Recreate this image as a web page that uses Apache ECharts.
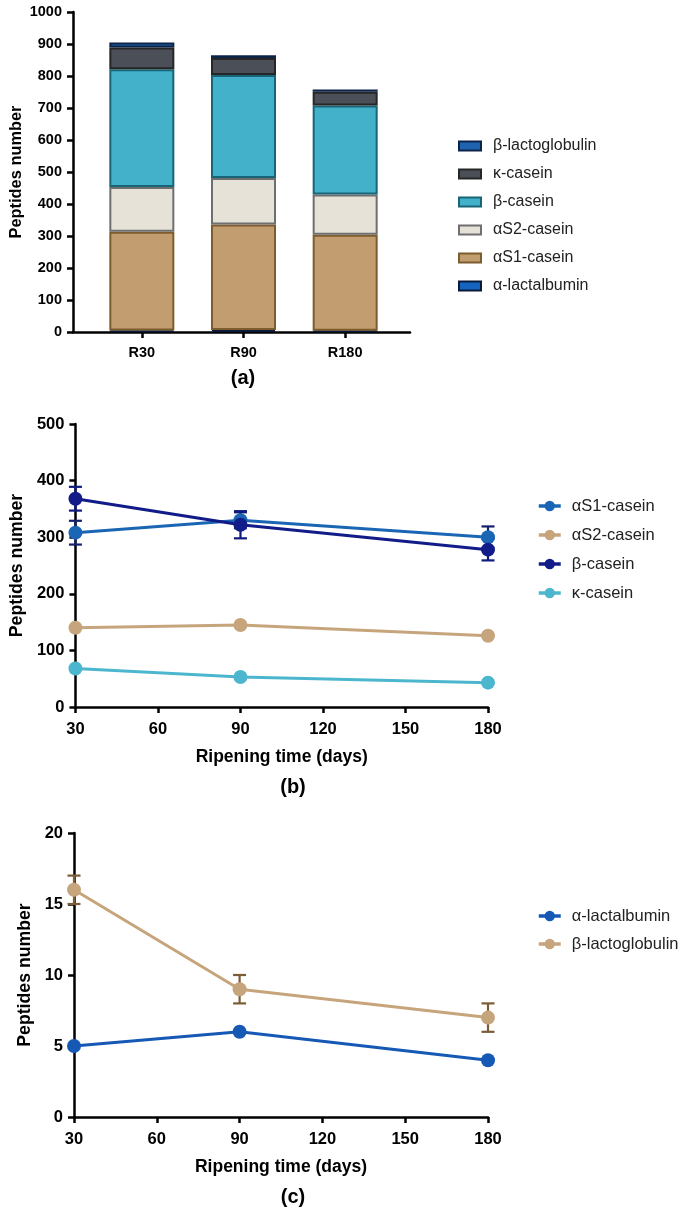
<!DOCTYPE html>
<html>
<head>
<meta charset="utf-8">
<script src="https://cdn.jsdelivr.net/npm/echarts@6/dist/echarts.min.js"></script>
<style>
html,body{margin:0;padding:0;background:#fff;}
#chart{width:688px;height:1211px;}
</style>
</head>
<body>
<div id="chart"></div>
<script>
// ---- data ----
const categories = ['R30', 'R90', 'R180'];
const days = [30, 90, 180];
const xTicks = [30, 60, 90, 120, 150, 180];

const aLactalbumin = [5, 6, 4];
const aS1Casein = [308, 330, 300];
const aS2Casein = [140, 145, 126];
const bCasein = [368, 322, 278];
const kCasein = [68, 53, 43];
const bLactoglobulin = [16, 9, 7];

const aS1Err = [21, 14, 19];
const bCaseinErr = [21, 24, 19];
const bLactoglobulinErr = [1, 1, 1];

// ---- styles ----
const FONT = '"Liberation Sans", Arial, sans-serif';
const AX = { color: '#000', width: 2.5 };
const chart = echarts.init(document.getElementById('chart'));

function pts(vals) { return days.map((d, i) => [d, vals[i]]); }
function errData(vals, errs) { return days.map((d, i) => [d, vals[i], errs[i]]); }

function errSeries(name, vals, errs, color, xi, yi) {
  return {
    type: 'custom', name: name, xAxisIndex: xi, yAxisIndex: yi, z: 1,
    data: errData(vals, errs),
    renderItem: function (params, api) {
      const x = api.value(0), y = api.value(1), e = api.value(2);
      const t = api.coord([x, y + e]), b = api.coord([x, y - e]);
      const w = 6.5;
      const st = { stroke: color, lineWidth: 2.2 };
      return {
        type: 'group', children: [
          { type: 'line', shape: { x1: t[0], y1: t[1], x2: b[0], y2: b[1] }, style: st },
          { type: 'line', shape: { x1: t[0] - w, y1: t[1], x2: t[0] + w, y2: t[1] }, style: st },
          { type: 'line', shape: { x1: b[0] - w, y1: b[1], x2: b[0] + w, y2: b[1] }, style: st }
        ]
      };
    }
  };
}

function barSeries(name, vals, fill, border) {
  return {
    type: 'bar', name: name, stack: 'total', xAxisIndex: 0, yAxisIndex: 0,
    barWidth: 65, data: vals,
    itemStyle: { color: fill, borderColor: border, borderWidth: 2 }
  };
}

function lineSeries(name, vals, color, xi, yi) {
  return {
    type: 'line', name: name, xAxisIndex: xi, yAxisIndex: yi, z: 3,
    data: pts(vals), symbol: 'circle', symbolSize: 14,
    lineStyle: { color: color, width: 3 },
    itemStyle: { color: color }
  };
}

const tickLabel = (size) => ({ color: '#000', fontWeight: 'bold', fontSize: size, fontFamily: FONT });

function valueXAxis(gi) {
  return {
    type: 'value', gridIndex: gi, min: 30, max: 180, interval: 30,
    axisLine: { show: true, lineStyle: AX },
    axisTick: { show: true, length: 6, lineStyle: AX },
    axisLabel: Object.assign({ margin: 14, formatter: v => xTicks.includes(v) ? String(v) : '' }, tickLabel(16.5)),
    splitLine: { show: false },
    name: 'Ripening time (days)', nameLocation: 'middle', nameGap: 41,
    nameTextStyle: { color: '#000', fontWeight: 'bold', fontSize: 17.5, fontFamily: FONT }
  };
}

function valueYAxis(gi, max, interval, gap, labelSize, nameSize, offset) {
  return {
    type: 'value', gridIndex: gi, min: 0, max: max, interval: interval, offset: offset || 0,
    axisLine: { show: true, lineStyle: AX },
    axisTick: { show: true, length: 6, lineStyle: AX },
    axisLabel: Object.assign({ margin: 11, formatter: v => String(v) }, tickLabel(labelSize)),
    splitLine: { show: false },
    name: 'Peptides number', nameLocation: 'middle', nameGap: gap,
    nameTextStyle: { color: '#000', fontWeight: 'bold', fontSize: nameSize, fontFamily: FONT }
  };
}

const legendText = (pad) => ({ fontSize: 16.5, color: '#222', fontFamily: FONT, lineHeight: 19, padding: [0, 0, 0, pad] });

const option = {
  animation: false,
  backgroundColor: '#fff',
  textStyle: { fontFamily: FONT },
  grid: [
    { left: 91, top: 12, width: 305, height: 320 },
    { left: 73, top: 12, width: 337, height: 320 },
    { left: 74, top: 424, width: 414, height: 283 },
    { left: 74, top: 833, width: 414, height: 284 }
  ],
  xAxis: [
    {
      type: 'category', gridIndex: 0, data: categories,
      axisLine: { show: false },
      axisTick: { show: true, alignWithLabel: true, length: 6, lineStyle: AX },
      axisLabel: Object.assign({ margin: 13 }, tickLabel(14.5))
    },
    {
      type: 'value', gridIndex: 1, min: 0, max: 1,
      axisLine: { show: true, lineStyle: AX },
      axisTick: { show: false }, axisLabel: { show: false }, splitLine: { show: false }
    },
    valueXAxis(2),
    valueXAxis(3)
  ],
  yAxis: [
    valueYAxis(0, 1000, 100, 49, 14.5, 16.4, 18),
    { type: 'value', gridIndex: 1, min: 0, max: 1, show: false },
    valueYAxis(2, 500, 100, 44, 16.5, 17.7),
    valueYAxis(3, 20, 5, 37, 16.5, 17.7)
  ],
  legend: [
    {
      data: ['β-lactoglobulin', 'κ-casein', 'β-casein', 'αS2-casein', 'αS1-casein', 'α-lactalbumin'],
      orient: 'vertical', left: 453, top: 132, icon: 'rect',
      itemWidth: 22, itemHeight: 9, itemGap: 10,
      textStyle: { fontSize: 16, color: '#222', fontFamily: FONT, lineHeight: 18, padding: [0, 0, 0, 7] }
    },
    {
      data: ['αS1-casein ', 'αS2-casein ', 'β-casein ', 'κ-casein '],
      orient: 'vertical', left: 532, top: 491.5,
      itemWidth: 22, itemHeight: 13, itemGap: 10,
      lineStyle: { width: 3.5 },
      textStyle: legendText(6)
    },
    {
      data: ['α-lactalbumin ', 'β-lactoglobulin '],
      orient: 'vertical', left: 532, top: 901.5,
      itemWidth: 22, itemHeight: 13, itemGap: 9,
      lineStyle: { width: 3.5 },
      textStyle: legendText(6)
    }
  ],
  graphic: [
    { type: 'text', x: 243, y: 378, style: { text: '(a)', font: 'bold 20px ' + FONT, fill: '#000', textAlign: 'center', textVerticalAlign: 'middle' } },
    { type: 'text', x: 293, y: 787, style: { text: '(b)', font: 'bold 20px ' + FONT, fill: '#000', textAlign: 'center', textVerticalAlign: 'middle' } },
    { type: 'text', x: 293, y: 1197, style: { text: '(c)', font: 'bold 20px ' + FONT, fill: '#000', textAlign: 'center', textVerticalAlign: 'middle' } }
  ],
  series: [
    barSeries('α-lactalbumin', aLactalbumin, '#1565c0', '#0b1a3a'),
    barSeries('αS1-casein', aS1Casein, '#c29d6f', '#7d5c2e'),
    barSeries('αS2-casein', aS2Casein, '#e6e2d8', '#6f6f6f'),
    barSeries('β-casein', bCasein, '#44b1cb', '#176577'),
    barSeries('κ-casein', kCasein, '#4b4f57', '#262626'),
    barSeries('β-lactoglobulin', bLactoglobulin, '#1f62b0', '#0c2448'),

    errSeries('errS1', aS1Casein, aS1Err, '#13206e', 2, 2),
    errSeries('errB', bCasein, bCaseinErr, '#0e1a80', 2, 2),
    lineSeries('αS1-casein ', aS1Casein, '#1a66b5', 2, 2),
    lineSeries('αS2-casein ', aS2Casein, '#c6a57d', 2, 2),
    lineSeries('β-casein ', bCasein, '#111c88', 2, 2),
    lineSeries('κ-casein ', kCasein, '#4cb6cf', 2, 2),

    errSeries('errLg', bLactoglobulin, bLactoglobulinErr, '#7a5c36', 3, 3),
    lineSeries('α-lactalbumin ', aLactalbumin, '#1659b5', 3, 3),
    lineSeries('β-lactoglobulin ', bLactoglobulin, '#c6a57d', 3, 3)
  ]
};
chart.setOption(option);
</script>
</body>
</html>
